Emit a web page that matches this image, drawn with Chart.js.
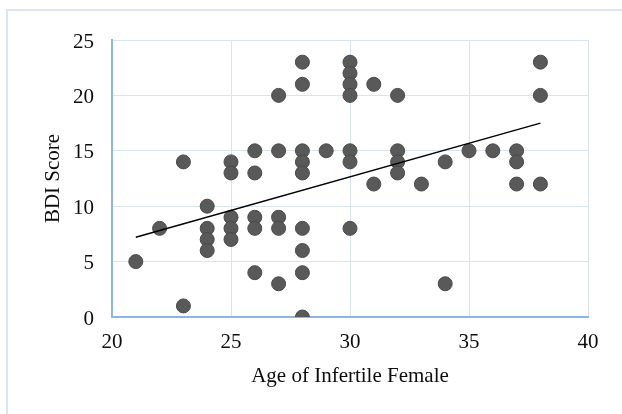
<!DOCTYPE html>
<html>
<head>
<meta charset="utf-8">
<script src="https://cdn.jsdelivr.net/npm/chart.js@4/dist/chart.umd.min.js"></script>
<style>
  html, body { margin: 0; padding: 0; background: #ffffff; }
  #wrap { position: relative; width: 622px; height: 414px; overflow: hidden; }
  #frame { position: absolute; left: 6px; top: 9px; width: 700px; height: 500px;
           border-left: 2px solid #dce6f2; border-top: 2px solid #dce6f2; box-sizing: border-box; }
  #c { position: absolute; left: 0; top: 0; }
</style>
</head>
<body>
<div id="wrap">
  <div id="frame"></div>
  <canvas id="c" width="622" height="414"></canvas>
</div>
<script>
// Data
const ages = [21, 22, 23, 23, 24, 24, 24, 24, 25, 25, 25, 25, 25,
              26, 26, 26, 26, 26, 27, 27, 27, 27, 27,
              28, 28, 28, 28, 28, 28, 28, 28, 28, 29,
              30, 30, 30, 30, 30, 30, 30, 31, 31,
              32, 32, 32, 32, 33, 34, 34, 35, 36,
              37, 37, 37, 38, 38, 38];
const bdi  = [5, 8, 14, 1, 10, 8, 7, 6, 14, 13, 9, 8, 7,
              15, 13, 9, 8, 4, 20, 15, 9, 8, 3,
              23, 21, 15, 14, 13, 8, 6, 4, 0, 15,
              23, 22, 21, 20, 15, 14, 8, 21, 12,
              20, 15, 14, 13, 12, 14, 3, 15, 15,
              15, 14, 12, 23, 20, 12];
const trendX = [21, 38];
const trendY = [7.2, 17.5];
const xTicks = [20, 25, 30, 35, 40];
const yTicks = [0, 5, 10, 15, 20, 25];

const points = ages.map((a, i) => ({ x: a, y: bdi[i] }));
const trend = trendX.map((a, i) => ({ x: a, y: trendY[i] }));

const serif = "'Liberation Serif', 'DejaVu Serif', serif";
const textColor = '#0d0d0d';

new Chart(document.getElementById('c'), {
  type: 'scatter',
  data: {
    datasets: [
      {
        label: 'Trend',
        data: trend,
        showLine: true,
        borderColor: '#000000',
        borderWidth: 1.5,
        pointRadius: 0,
        fill: false,
        order: 0
      },
      {
        label: 'BDI',
        data: points,
        backgroundColor: '#595959',
        borderColor: '#4a4a4a',
        borderWidth: 1,
        pointRadius: 7,
        pointHoverRadius: 7,
        order: 1
      }
    ]
  },
  options: {
    responsive: false,
    animation: false,
    devicePixelRatio: 1,
    layout: { padding: { left: 0, right: 34, top: 40, bottom: 0 } },
    plugins: { legend: { display: false }, tooltip: { enabled: false } },
    scales: {
      x: {
        type: 'linear',
        min: 20, max: 40,
        afterBuildTicks: (s) => { s.ticks = xTicks.map(v => ({ value: v })); },
        afterFit: (s) => { s.height = 97; },
        ticks: { padding: 13, color: textColor, font: { family: serif, size: 21 } },
        grid: { color: '#d9e4f2', lineWidth: 1, drawTicks: false },
        border: { color: '#8eb4e3', width: 2 },
        title: {
          display: true, text: 'Age of Infertile Female', color: textColor,
          font: { family: serif, size: 21 }, padding: { top: 0, bottom: 25 }
        }
      },
      y: {
        type: 'linear',
        min: 0, max: 25,
        afterBuildTicks: (s) => { s.ticks = yTicks.map(v => ({ value: v })); },
        afterFit: (s) => { s.width = 112; },
        ticks: { padding: 18, labelOffset: 2, color: textColor, font: { family: serif, size: 21 } },
        grid: { color: '#d9e4f2', lineWidth: 1, drawTicks: false },
        border: { color: '#8eb4e3', width: 2 },
        title: {
          display: true, text: 'BDI Score', color: textColor,
          font: { family: serif, size: 21 }, padding: { top: 41, bottom: 0 }
        }
      }
    }
  }
});
</script>
</body>
</html>
